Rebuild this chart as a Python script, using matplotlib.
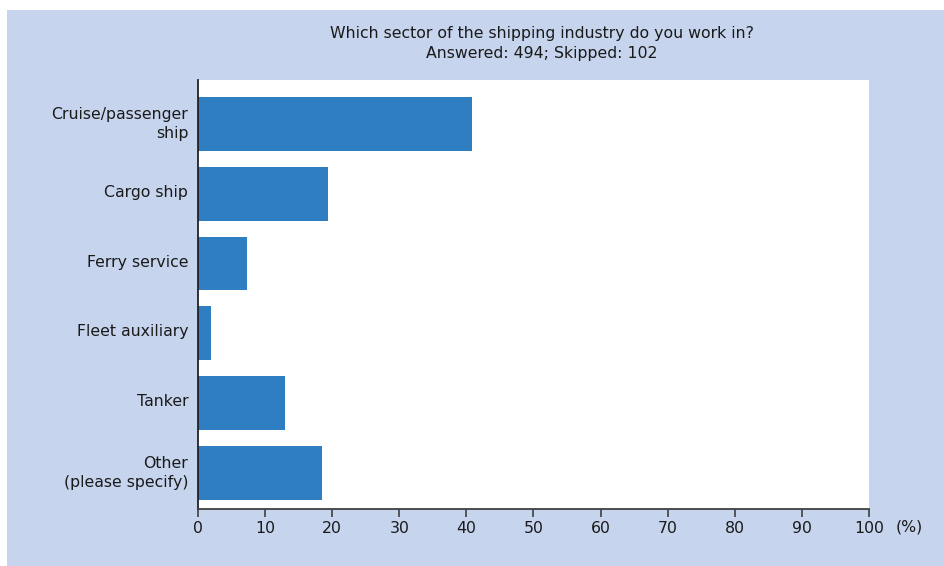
import matplotlib.pyplot as plt
import matplotlib.transforms as mtransforms
from matplotlib.patches import Rectangle
import numpy as np

# Survey answers, share of respondents (%)
sectors = ["Cruise/passenger\nship", "Cargo ship", "Ferry service",
           "Fleet auxiliary", "Tanker", "Other\n(please specify)"]
shares = [40.9, 19.3, 7.3, 1.9, 13.0, 18.5]
xticks = list(range(0, 101, 10))

plt.rcParams["font.family"] = ["DejaVu Sans"]
FS = 11.3
INK = "#1a1a1a"

W, H = 945, 566
fig = plt.figure(figsize=(W / 100, H / 100), dpi=100)
fig.patch.set_facecolor("white")

# light blue panel behind everything
fig.patches.append(Rectangle((7 / W, 0), 1 - 7 / W, 1 - 10 / H,
                             transform=fig.transFigure, facecolor="#c6d4ed",
                             edgecolor="none", zorder=-5))

ax = fig.add_axes([198 / W, 1 - 508.5 / H, (869 - 198) / W, (508.5 - 80) / H])
ax.set_zorder(2)
ax.set_facecolor("white")

y = np.arange(len(sectors))
ax.barh(y, shares, height=0.77, color="#2e7ec1")
ax.set_ylim(5.51, -0.63)
ax.set_xlim(0, 100)

ax.set_xticks(xticks)
ax.set_yticks(y)
ax.set_yticklabels(sectors, ha="right", linespacing=1.3)
ax.tick_params(axis="y", length=0, pad=7, labelsize=FS, colors=INK)
ax.tick_params(axis="x", length=6, width=1.2, color="#404040", pad=3,
               labelsize=FS, labelcolor=INK)

# category labels sit a touch above the bar centres
shift = mtransforms.ScaledTranslation(0, 3 / 100, fig.dpi_scale_trans)
for lab in ax.get_yticklabels():
    lab.set_transform(lab.get_transform() + shift)

for side in ["top", "right"]:
    ax.spines[side].set_visible(False)
ax.spines["left"].set_color("#222222")
ax.spines["left"].set_linewidth(1.3)
ax.spines["bottom"].set_color("#404040")
ax.spines["bottom"].set_linewidth(1.3)

fig.text(909 / W, 1 - 527 / H, "(%)", ha="center", va="center",
         fontsize=FS, color=INK)
fig.text(542 / W, 1 - 43.5 / H,
         "Which sector of the shipping industry do you work in?\nAnswered: 494; Skipped: 102",
         ha="center", va="center", fontsize=FS, color=INK, linespacing=1.4)

fig.savefig("out.png", dpi=100)
